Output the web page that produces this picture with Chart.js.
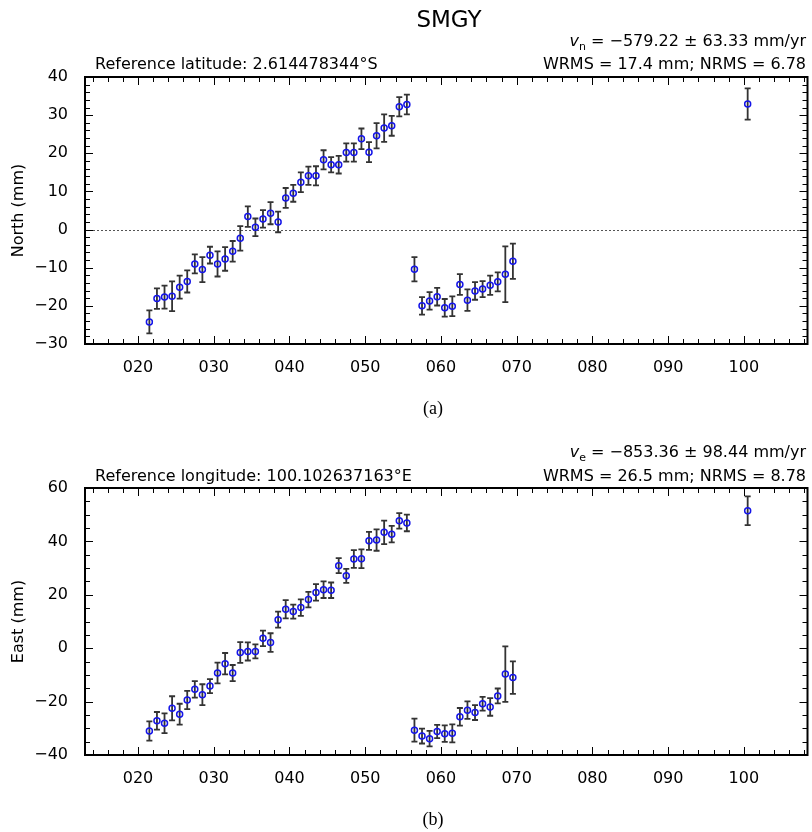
<!DOCTYPE html>
<html><head><meta charset="utf-8">
<script src="https://cdn.jsdelivr.net/npm/chart.js@4.4.1/dist/chart.umd.min.js"></script>
<style>
html,body{margin:0;padding:0;background:#fff;}
#wrapA{position:absolute;left:0;top:0;width:812px;height:420px;}
#wrapB{position:absolute;left:0;top:420px;width:812px;height:412px;}
</style></head><body>
<div id="wrapA"><canvas id="chartA"></canvas></div>
<div id="wrapB"><canvas id="chartB"></canvas></div>
<script>
// ---- data (day, displacement in mm, 1-sigma error) ----
const days = [21.5,22.5,23.5,24.5,25.5,26.5,27.5,28.5,29.5,30.5,31.5,32.5,33.5,34.5,35.5,36.5,37.5,38.5,39.5,40.5,41.5,42.5,43.5,44.5,45.5,46.5,47.5,48.5,49.5,50.5,51.5,52.5,53.5,54.5,55.5,
              56.5,57.5,58.5,59.5,60.5,61.5,62.5,63.5,64.5,65.5,66.5,67.5,68.5,69.5,
              100.5];
const north = [-24.2,-18.1,-17.7,-17.5,-15.1,-13.6,-9.0,-10.5,-6.7,-9.0,-7.7,-5.7,-2.3,3.4,0.6,2.8,4.3,2.0,8.3,9.5,12.4,14.1,14.1,18.3,17.0,17.0,20.2,20.2,23.8,20.3,24.6,26.6,27.2,32.2,32.8,
               -10.4,-20.0,-18.7,-17.6,-20.5,-20.1,-14.4,-18.5,-16.1,-15.6,-14.6,-13.7,-11.7,-8.3,
               32.9];
const northErr = [3.0,2.7,3.0,3.9,3.0,2.9,2.5,3.3,2.2,3.3,3.1,2.7,3.2,2.7,2.3,2.3,2.9,2.7,2.6,2.2,2.6,2.4,2.5,2.5,2.0,2.3,2.4,2.4,2.7,2.6,3.3,3.6,2.6,2.5,2.6,
                  3.2,2.3,2.3,2.3,2.3,2.6,2.7,2.8,2.3,2.1,2.5,2.5,7.3,4.6,
                  4.1];
const east = [-31.0,-27.2,-28.1,-22.5,-24.7,-19.4,-15.4,-17.4,-14.2,-9.3,-5.8,-9.3,-1.6,-1.2,-1.2,3.7,2.1,10.7,14.6,13.7,15.2,18.2,20.9,21.9,21.7,30.9,27.1,33.4,33.5,40.2,40.5,43.4,42.7,47.7,46.9,
              -30.7,-32.9,-33.9,-31.2,-32.0,-31.9,-25.7,-23.2,-24.1,-20.8,-22.0,-17.9,-9.7,-11.0,
              51.5];
const eastErr = [3.6,3.3,3.7,4.5,3.9,3.4,3.1,3.9,2.6,3.9,4.0,3.0,3.9,3.4,2.6,2.9,3.5,3.0,3.4,2.6,3.1,2.9,3.1,3.1,2.9,2.8,2.6,3.3,3.5,3.4,4.0,4.4,3.1,2.9,3.1,
                 4.3,2.8,2.9,2.5,3.1,3.4,3.3,3.3,2.8,2.6,3.3,2.8,10.4,6.1,
                 5.4];
const xTicks = [20,30,40,50,60,70,80,90,100];
const northTicks = [-30,-20,-10,0,10,20,30,40];
const eastTicks = [-40,-20,0,20,40,60];

const FONT = 'DejaVu Sans';

function minorList(min, max, step){ const a=[]; for(let v=Math.ceil(min/step)*step; v<=max+1e-9; v+=step) a.push(+v.toFixed(6)); return a; }

const framePlugin = {
  id: 'frameTicks',
  beforeDatasetsDraw(chart, args, o) {
    const {ctx, chartArea:{left,right,top,bottom}, scales:{x,y}} = chart;
    ctx.save();
    if (o.zeroLine) {
      const py = Math.round(y.getPixelForValue(0)) + 0.5;
      ctx.strokeStyle = '#555'; ctx.lineWidth = 1; ctx.setLineDash([2,2]);
      ctx.beginPath(); ctx.moveTo(left, py); ctx.lineTo(right, py); ctx.stroke();
      ctx.setLineDash([]);
    }
    // error bars
    const ds = chart.data.datasets[0].data;
    ctx.strokeStyle = '#333'; ctx.lineWidth = 1.8;
    ds.forEach((p, i) => {
      const e = o.errors[i];
      const px = x.getPixelForValue(p.x);
      const y1 = y.getPixelForValue(p.y - e), y2 = y.getPixelForValue(p.y + e);
      ctx.beginPath();
      ctx.moveTo(px, y1); ctx.lineTo(px, y2);
      ctx.moveTo(px-3, y1); ctx.lineTo(px+3, y1);
      ctx.moveTo(px-3, y2); ctx.lineTo(px+3, y2);
      ctx.stroke();
    });
    ctx.restore();
  },
  afterDatasetsDraw(chart, args, o) {
    const {ctx, chartArea:{left,right,top,bottom}, scales:{x,y}} = chart;
    ctx.save();
    ctx.strokeStyle = '#000'; ctx.lineWidth = 1;
    const xmaj = new Set(xTicks);
    minorList(x.min, x.max, 2).forEach(v => {
      const px = Math.round(x.getPixelForValue(v)) + 0.5;
      const len = xmaj.has(v) ? 8 : 5;
      ctx.beginPath();
      ctx.moveTo(px, bottom); ctx.lineTo(px, bottom - len);
      ctx.moveTo(px, top); ctx.lineTo(px, top + len);
      ctx.stroke();
    });
    const ymaj = new Set(o.yMajor);
    minorList(y.min, y.max, o.yMinorStep).forEach(v => {
      const py = Math.round(y.getPixelForValue(v)) + 0.5;
      const len = ymaj.has(v) ? 8 : 5;
      ctx.beginPath();
      ctx.moveTo(left, py); ctx.lineTo(left + len, py);
      ctx.moveTo(right, py); ctx.lineTo(right - len, py);
      ctx.stroke();
    });
    ctx.lineWidth = 2;
    ctx.strokeRect(left, top, right - left, bottom - top);
    ctx.restore();
  },
  afterDraw(chart, args, o) {
    const {ctx, chartArea:{left,right,top,bottom}} = chart;
    ctx.save();
    ctx.fillStyle = '#000';
    ctx.textBaseline = 'alphabetic';
    if (o.title) {
      ctx.font = '23px ' + FONT; ctx.textAlign = 'center';
      ctx.fillText(o.title, 449, o.titleY);
    }
    // velocity line: v_sub = ...
    ctx.font = '16px ' + FONT;
    const rest = o.velText;
    const wRest = ctx.measureText(rest).width;
    ctx.font = 'italic 16px ' + FONT;
    const wV = ctx.measureText('v').width;
    ctx.font = '11px ' + FONT;
    const wS = ctx.measureText(o.velSub).width;
    let x0 = 806 - wRest - wS - wV;
    ctx.textAlign = 'left';
    ctx.font = 'italic 16px ' + FONT; ctx.fillText('v', x0, o.velY);
    ctx.font = '11px ' + FONT; ctx.fillText(o.velSub, x0 + wV, o.velY + 4);
    ctx.font = '16px ' + FONT; ctx.fillText(rest, x0 + wV + wS, o.velY);
    ctx.textAlign = 'left'; ctx.fillText(o.refText, 95, o.refY);
    ctx.textAlign = 'right'; ctx.fillText(o.rmsText, 806, o.refY);
    // axis title
    ctx.save();
    ctx.translate(19, (top + bottom) / 2);
    ctx.rotate(-Math.PI / 2);
    ctx.textAlign = 'center'; ctx.textBaseline = 'middle';
    ctx.font = '16px ' + FONT;
    ctx.fillText(o.yTitle, 0, 0);
    ctx.restore();
    // caption
    ctx.font = '18px "Liberation Serif"'; ctx.textAlign = 'center';
    ctx.fillText(o.caption, 433, o.captionY);
    ctx.restore();
  }
};

function makeChart(id, values, errs, yMin, yMax, yTicks, yMinorStep, padTop, xHeight, extra) {
  const pts = days.map((d, i) => ({x: d, y: values[i]}));
  return new Chart(document.getElementById(id), {
    type: 'scatter',
    data: { datasets: [{ data: pts, showLine: false, pointRadius: 3, pointHoverRadius: 3,
      pointBorderWidth: 1.5, borderColor: '#1515e8', backgroundColor: 'rgba(0,0,0,0)' }] },
    options: {
      responsive: true, maintainAspectRatio: false, animation: false, events: [],
      layout: { padding: { top: padTop, right: 1, left: 0, bottom: 0 } },
      plugins: {
        legend: { display: false }, tooltip: { enabled: false },
        frameTicks: Object.assign({ errors: errs, yMajor: yTicks, yMinorStep: yMinorStep }, extra)
      },
      scales: {
        x: {
          type: 'linear', min: 13, max: 108.4,
          grid: { display: false, drawTicks: false }, border: { display: false },
          afterBuildTicks: s => { s.ticks = xTicks.map(v => ({value: v})); },
          afterFit: s => { s.height = xHeight; },
          ticks: { padding: 14, color: '#000', font: { family: FONT, size: 16 },
            callback: v => String(v).padStart(3, '0') }
        },
        y: {
          type: 'linear', min: yMin, max: yMax,
          grid: { display: false, drawTicks: false }, border: { display: false },
          afterBuildTicks: s => { s.ticks = yTicks.map(v => ({value: v})); },
          afterFit: s => { s.width = 85; },
          ticks: { padding: 17, color: '#000', font: { family: FONT, size: 16 },
            callback: v => v < 0 ? '\u2212' + Math.abs(v) : String(v) }
        }
      }
    },
    plugins: [framePlugin]
  });
}

makeChart('chartA', north, northErr, -30, 40, northTicks, 2, 77, 76, {
  zeroLine: true, title: 'SMGY', titleY: 27,
  velSub: 'n', velText: ' = \u2212579.22 \u00b1 63.33 mm/yr', velY: 46,
  refText: 'Reference latitude: 2.614478344\u00b0S', rmsText: 'WRMS = 17.4 mm; NRMS = 6.78', refY: 69,
  yTitle: 'North (mm)', caption: '(a)', captionY: 414
});
makeChart('chartB', east, eastErr, -40, 60, eastTicks, 5, 68, 77, {
  zeroLine: false, title: '', titleY: 0,
  velSub: 'e', velText: ' = \u2212853.36 \u00b1 98.44 mm/yr', velY: 37,
  refText: 'Reference longitude: 100.102637163\u00b0E', rmsText: 'WRMS = 26.5 mm; NRMS = 8.78', refY: 61,
  yTitle: 'East (mm)', caption: '(b)', captionY: 405
});
</script>
</body></html>
